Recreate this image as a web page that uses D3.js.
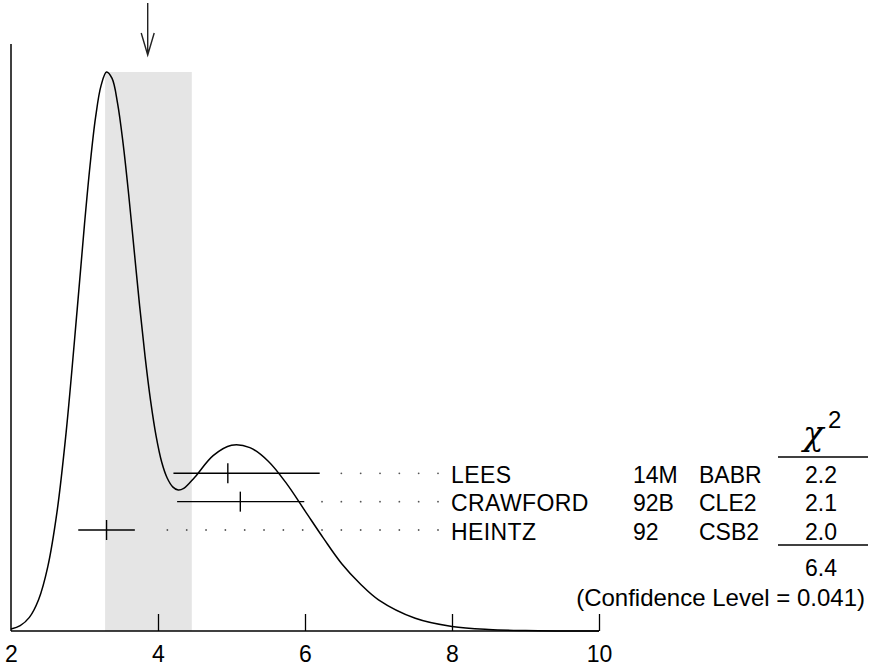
<!DOCTYPE html>
<html><head><meta charset="utf-8">
<script src="https://cdn.jsdelivr.net/npm/d3@7"></script>
<style>
html,body{margin:0;padding:0;background:#fff;}
svg{display:block;}
text{font-family:"Liberation Sans",Arial,Helvetica,sans-serif;fill:#000;}
</style></head>
<body>
<script>
// ---- data ----
const xTicks = [2, 4, 6, 8, 10];
const authors = ["LEES", "CRAWFORD", "HEINTZ"];
const docIds = ["14M", "92B", "92"];
const techniques = ["BABR", "CLE2", "CSB2"];
const values = [4.95, 5.12, 3.30];
const errLow = [0.74, 0.86, 0.385];
const errHigh = [1.25, 0.87, 0.385];
const chi2 = ["2.2", "2.1", "2.0"];
const chi2Total = "6.4";
const confidenceText = "(Confidence Level = 0.041)";
const bandLow = 3.28, bandHigh = 4.46;
const averageArrow = 3.86;
// ideogram curve (x, height in arbitrary units)
const curveX = [2.0, 2.125, 2.25, 2.375, 2.5, 2.625, 2.75, 2.9, 3.0, 3.075, 3.15, 3.225, 3.3, 3.375, 3.45, 3.525, 3.6, 3.675, 3.75, 3.825, 3.9, 3.975, 4.05, 4.125, 4.2, 4.275, 4.35, 4.5, 4.75, 5.0, 5.25, 5.5, 5.75, 6.0, 6.25, 6.5, 6.75, 7.0, 7.5, 8.0, 8.5, 9.0, 9.5, 10.0];
const curveY = [0.025, 0.067, 0.17, 0.39, 0.80, 1.48, 2.48, 4.01, 5.08, 5.81, 6.41, 6.81, 6.98, 6.90, 6.59, 6.09, 5.46, 4.76, 4.06, 3.42, 2.87, 2.43, 2.11, 1.91, 1.80, 1.76, 1.78, 1.92, 2.19, 2.32, 2.29, 2.12, 1.84, 1.50, 1.16, 0.84, 0.59, 0.39, 0.16, 0.057, 0.018, 0.005, 0.001, 0.0];

const W = 869, H = 667;
const svg = d3.select("body").append("svg").attr("width", W).attr("height", H);

const x = d3.scaleLinear().domain([2, 10]).range([11, 599]);
const y = d3.scaleLinear().domain([0, 7.33]).range([631, 44]);
const peak = d3.max(curveY);
const row = d3.scaleLinear().domain([0, authors.length - 1]).range([473.3, 530]);

// shaded band (weighted average +- error)
svg.append("rect")
  .attr("x", x(bandLow)).attr("width", x(bandHigh) - x(bandLow))
  .attr("y", y(peak)).attr("height", y(0) - y(peak))
  .attr("fill", "#e5e5e5");

// axes
svg.append("line").attr("x1", x(2)).attr("x2", x(2)).attr("y1", y(7.33)).attr("y2", y(0))
  .attr("stroke", "#000").attr("stroke-width", 1.5);
const xAxis = d3.axisBottom(x).tickValues(xTicks).tickSize(-17).tickPadding(0).tickFormat(d3.format("d"));
const gx = svg.append("g").attr("transform", `translate(0,${y(0)})`).call(xAxis);
gx.select(".domain").attr("stroke", "#000").attr("stroke-width", 1.5).attr("d", `M${x(2)},0H${x(10)}`);
gx.selectAll(".tick line").attr("stroke", "#000").attr("stroke-width", 1.3)
  .filter(d => d === 2).remove();
gx.selectAll(".tick text").attr("y", 31).attr("dy", null).style("font-size", "23px")
  .attr("font-family", '"Liberation Sans",Arial,Helvetica,sans-serif').attr("fill", "#000");

// curve
const pts = curveX.map((v, i) => [v, curveY[i]]);
svg.append("path").datum(pts)
  .attr("d", d3.line().x(d => x(d[0])).y(d => y(d[1])).curve(d3.curveCatmullRom.alpha(0.5)))
  .attr("fill", "none").attr("stroke", "#000").attr("stroke-width", 1.5);

// arrow
const ax = x(averageArrow);
svg.append("path")
  .attr("d", `M${ax},3V55M${ax - 6.5},33L${ax},55L${ax + 6.5},33`)
  .attr("fill", "none").attr("stroke", "#222").attr("stroke-width", 1.4);

// measurements
const labelX = 451;
authors.forEach((a, i) => {
  const yy = row(i);
  const lo = x(values[i] - errLow[i]), hi = x(values[i] + errHigh[i]), c = x(values[i]);
  svg.append("line").attr("x1", lo).attr("x2", hi).attr("y1", yy).attr("y2", yy)
    .attr("stroke", "#000").attr("stroke-width", 1.4);
  svg.append("line").attr("x1", c).attr("x2", c).attr("y1", yy - 10).attr("y2", yy + 10)
    .attr("stroke", "#000").attr("stroke-width", 1.4);
  // dotted leader
  const dots = [];
  for (let dx = labelX - 13; dx > hi + 15; dx -= 19.33) dots.push(dx);
  svg.selectAll(null).data(dots).enter().append("circle")
    .attr("cx", d => d).attr("cy", yy).attr("r", 0.9).attr("fill", "#555");
  const base = yy + 9.5;
  svg.append("text").attr("x", labelX).attr("y", base).style("font-size", "23px").style("letter-spacing", "0.4px").text(a);
  svg.append("text").attr("x", 633).attr("y", base).style("font-size", "23px").text(docIds[i]);
  svg.append("text").attr("x", 699).attr("y", base).style("font-size", "23px").text(techniques[i]);
  svg.append("text").attr("x", 821).attr("y", base).attr("text-anchor", "middle").style("font-size", "23px").text(chi2[i]);
});

// chi2 header
svg.append("text").attr("x", 803).attr("y", 445)
  .style("font-family", '"DejaVu Serif","Liberation Serif",serif').style("font-style", "italic")
  .style("font-size", "34px").text("χ");
svg.append("text").attr("x", 828).attr("y", 428).style("font-size", "24px").text("2");
svg.append("line").attr("x1", 778).attr("x2", 868).attr("y1", 457).attr("y2", 457).attr("stroke", "#000").attr("stroke-width", 1.3);
svg.append("line").attr("x1", 778).attr("x2", 868).attr("y1", 545).attr("y2", 545).attr("stroke", "#000").attr("stroke-width", 1.3);
svg.append("text").attr("x", 821).attr("y", 576).attr("text-anchor", "middle").style("font-size", "23px").text(chi2Total);
svg.append("text").attr("x", 865).attr("y", 606).attr("text-anchor", "end").style("font-size", "24px").text(confidenceText);
</script>
</body></html>
